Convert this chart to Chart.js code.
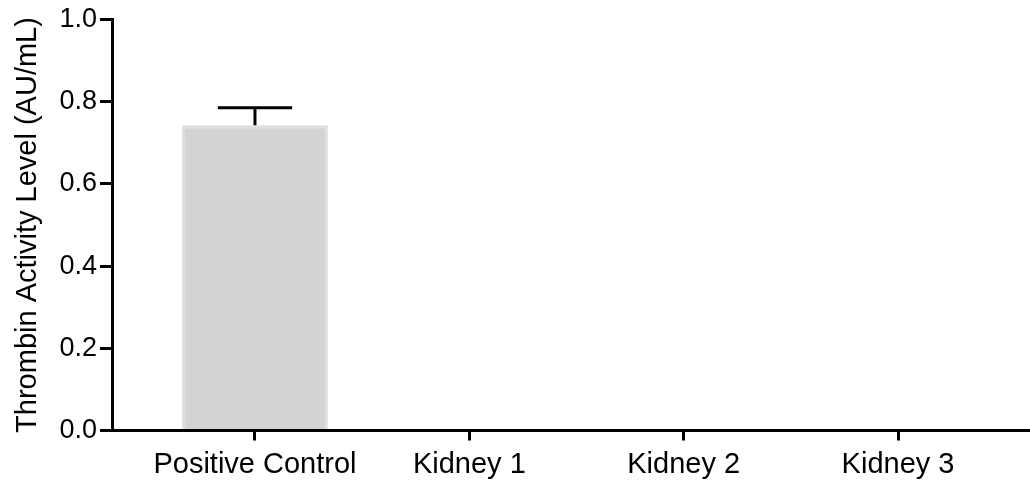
<!DOCTYPE html>
<html>
<head>
<meta charset="utf-8">
<title>Thrombin Activity Level</title>
<script src="https://cdn.jsdelivr.net/npm/chart.js@4.4.1/dist/chart.umd.min.js"></script>
<style>
  body { margin: 0; background: #fff; }
  #wrap { width: 1030px; height: 485px; }
</style>
</head>
<body>
<div id="wrap"><canvas id="myChart" width="1030" height="485"></canvas></div>
<script>
const categories = ["Positive Control", "Kidney 1", "Kidney 2", "Kidney 3"];
const activity = [0.743, 0, 0, 0];
const errors = [0.042, 0, 0, 0];
const yTicks = [0, 0.2, 0.4, 0.6, 0.8, 1.0];

const fontFamily = "'Liberation Sans', Arial, Helvetica, sans-serif";
const ctx = document.getElementById("myChart");

// simple upward error bars (mean + SD) drawn on top of the bars
const errorBars = {
  id: "errorBars",
  afterDatasetsDraw(chart) {
    const c = chart.ctx;
    const meta = chart.getDatasetMeta(0);
    const y = chart.scales.y;
    c.save();
    c.strokeStyle = "#000";
    c.lineWidth = 3;
    meta.data.forEach(function (bar, i) {
      if (!errors[i]) return;
      const top = y.getPixelForValue(activity[i] + errors[i]);
      const half = bar.width * 0.255;
      c.beginPath();
      c.moveTo(bar.x, bar.y);
      c.lineTo(bar.x, top);
      c.moveTo(bar.x - half, top);
      c.lineTo(bar.x + half, top);
      c.stroke();
    });
    c.restore();
  },
};

new Chart(ctx, {
  type: "bar",
  data: {
    datasets: [
      {
        data: categories.map(function (c, i) {
          return { x: i, y: activity[i] };
        }),
        backgroundColor: "#d3d3d3",
        borderColor: "#dedede",
        borderWidth: 3,
        borderSkipped: "bottom",
        barPercentage: 0.68,
        categoryPercentage: 1,
      },
    ],
  },
  plugins: [errorBars],
  options: {
    responsive: false,
    animation: false,
    layout: { padding: { top: 19.5, right: 1, left: 0, bottom: 0 } },
    plugins: {
      legend: { display: false },
      tooltip: { enabled: false },
    },
    scales: {
      x: {
        type: "linear",
        offset: false,
        min: -0.667,
        max: 3.611,
        afterBuildTicks: function (scale) {
          scale.ticks = categories.map(function (c, i) {
            return { value: i };
          });
        },
        afterFit: function (scale) {
          scale.height = 54.5;
        },
        grid: {
          offset: false,
          drawOnChartArea: false,
          color: "#000",
          lineWidth: 3,
          tickLength: 10,
        },
        border: { display: true, color: "#000", width: 3 },
        ticks: {
          autoSkip: false,
          maxRotation: 0,
          padding: 7,
          color: "#000",
          font: { size: 29, family: fontFamily },
          callback: function (value) {
            return categories[value];
          },
        },
      },
      y: {
        min: 0,
        max: 1,
        afterBuildTicks: function (scale) {
          scale.ticks = yTicks.map(function (v) {
            return { value: v };
          });
        },
        afterFit: function (scale) {
          scale.width = 112;
        },
        grid: {
          drawOnChartArea: false,
          color: "#000",
          lineWidth: 3,
          tickLength: 12,
        },
        border: { display: true, color: "#000", width: 3 },
        ticks: {
          padding: 3,
          color: "#000",
          font: { size: 27, family: fontFamily },
          callback: function (value) {
            return value.toFixed(1);
          },
        },
        title: {
          display: true,
          text: "Thrombin Activity Level (AU/mL)",
          color: "#000",
          padding: { top: 11, bottom: 0 },
          font: { size: 29, family: fontFamily },
        },
      },
    },
  },
});
</script>
</body>
</html>
